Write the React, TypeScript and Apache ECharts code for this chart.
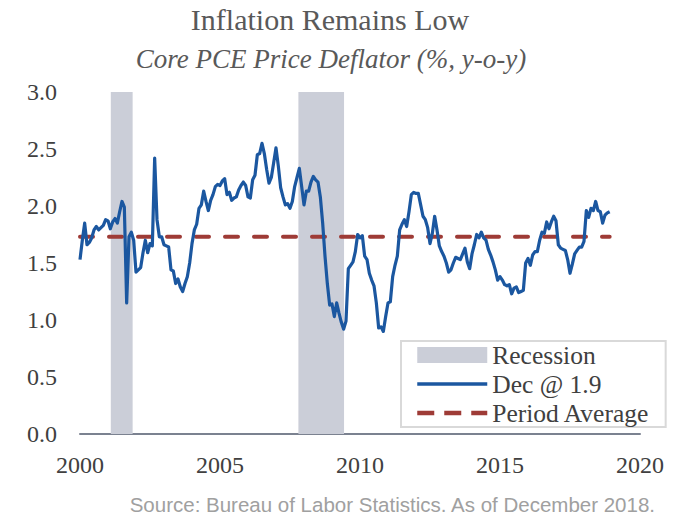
import React, { useEffect, useRef } from "react";
import * as echarts from "echarts";

// Core PCE price deflator, % y-o-y, monthly Jan 2000 .. Dec 2018
const startYear = 2000;
const corePce = [
  1.53, 1.70, 1.85, 1.66, 1.68, 1.72, 1.79, 1.82, 1.79, 1.81, 1.83, 1.88, // 2000
  1.87, 1.80, 1.86, 1.89, 1.85, 1.95, 2.04, 1.99, 1.15, 1.73, 1.77, 1.70, // 2001
  1.42, 1.44, 1.46, 1.59, 1.70, 1.59, 1.67, 1.65, 2.42, 1.88, 1.73, 1.73, // 2002
  1.66, 1.65, 1.64, 1.44, 1.43, 1.32, 1.36, 1.29, 1.25, 1.32, 1.38, 1.50, // 2003
  1.67, 1.79, 1.84, 1.98, 2.01, 2.13, 2.04, 1.96, 2.05, 2.10, 2.17, 2.19, // 2004
  2.18, 2.22, 2.24, 2.10, 2.12, 2.05, 2.07, 2.08, 2.14, 2.18, 2.21, 2.18, // 2005
  2.08, 2.07, 2.23, 2.27, 2.45, 2.46, 2.55, 2.46, 2.32, 2.20, 2.25, 2.38, // 2006
  2.51, 2.35, 2.16, 2.08, 2.01, 2.02, 1.98, 2.04, 2.17, 2.25, 2.33, 2.17, // 2007
  2.01, 2.13, 2.13, 2.21, 2.26, 2.23, 2.21, 2.08, 1.85, 1.56, 1.32, 1.13, // 2008
  1.14, 1.03, 1.15, 1.06, 0.98, 0.92, 0.99, 1.45, 1.48, 1.51, 1.60, 1.75, // 2009
  1.72, 1.74, 1.56, 1.53, 1.41, 1.35, 1.30, 1.15, 0.93, 0.94, 0.90, 1.03, // 2010
  1.15, 1.16, 1.38, 1.48, 1.56, 1.79, 1.84, 1.88, 1.82, 1.95, 2.10, 2.12, // 2011
  2.11, 2.11, 2.01, 1.91, 1.88, 1.81, 1.67, 1.76, 1.91, 1.79, 1.65, 1.60, // 2012
  1.56, 1.50, 1.42, 1.44, 1.50, 1.55, 1.54, 1.53, 1.58, 1.63, 1.51, 1.45, // 2013
  1.58, 1.66, 1.75, 1.72, 1.77, 1.72, 1.70, 1.62, 1.57, 1.51, 1.44, 1.35, // 2014
  1.38, 1.35, 1.31, 1.30, 1.31, 1.23, 1.28, 1.29, 1.24, 1.25, 1.26, 1.50, // 2015
  1.54, 1.48, 1.57, 1.60, 1.60, 1.70, 1.77, 1.76, 1.86, 1.80, 1.86, 1.91, // 2016
  1.87, 1.66, 1.63, 1.62, 1.61, 1.53, 1.41, 1.49, 1.58, 1.61, 1.64, 1.64, // 2017
  1.69, 1.96, 1.90, 1.98, 1.96, 2.04, 1.96, 1.95, 1.85, 1.92, 1.94, 1.95, // 2018
];

// Recession periods (decimal years, start/end of shading)
const recessionStarts = [2001.1, 2007.8];
const recessionEnds = [2001.88, 2009.43];

const periodAverage = 1.73;
const averageSpan = [2000, 2018 + 11 / 12];

const xTickLabels = ["2000", "2005", "2010", "2015", "2020"];
const yTickLabels = ["0.0", "0.5", "1.0", "1.5", "2.0", "2.5", "3.0"];

const titleText = "Inflation Remains Low";
const subtitleText = "Core PCE Price Deflator (%, y-o-y)";
const sourceText = "Source: Bureau of Labor Statistics. As of December 2018.";

const serif = "'Liberation Serif', 'DejaVu Serif', serif";
const sans = "'Liberation Sans', Arial, sans-serif";

export default function App() {
  const ref = useRef<HTMLDivElement>(null);

  useEffect(() => {
    if (!ref.current) return;
    const chart = echarts.init(ref.current, undefined, { renderer: "svg" });

    const lineData = corePce.map((v, i) => [startYear + i / 12, v]);
    const avgData = averageSpan.map((x) => [x, periodAverage]);
    const recessionAreas = recessionStarts.map((s, i) => [
      { xAxis: s },
      { xAxis: recessionEnds[i] },
    ]);

    const option: any = {
      animation: false,
      backgroundColor: "#ffffff",
      grid: { left: 80, right: 41, top: 92, bottom: 84, containLabel: false },
      xAxis: {
        type: "value",
        min: 2000,
        max: 2020,
        interval: 5,
        axisLine: { show: true, lineStyle: { color: "#7b8290", width: 2 } },
        axisTick: { show: false },
        splitLine: { show: false },
        axisLabel: {
          formatter: (v: number) => xTickLabels[Math.round((v - 2000) / 5)] ?? String(v),
          fontFamily: serif,
          fontSize: 24,
          color: "#404040",
          margin: 19,
        },
      },
      yAxis: {
        type: "value",
        min: 0,
        max: 3,
        interval: 0.5,
        axisLine: { show: false },
        axisTick: { show: false },
        splitLine: { show: false },
        axisLabel: {
          formatter: (v: number) => yTickLabels[Math.round(v / 0.5)] ?? v.toFixed(1),
          fontFamily: serif,
          fontSize: 24,
          color: "#404040",
          margin: 23,
        },
      },
      legend: {
        orient: "vertical",
        left: 401,
        top: 341,
        itemWidth: 70,
        itemHeight: 16,
        itemGap: 3,
        padding: [1, 16, 1, 14],
        backgroundColor: "#ffffff",
        borderColor: "#d9d9d9",
        borderWidth: 2,
        textStyle: { fontFamily: serif, fontSize: 25.5, color: "#404040", lineHeight: 24 },
        data: [
          { name: "Recession", icon: "rect" },
          {
            name: "Dec @ 1.9",
            itemStyle: { opacity: 0 },
            lineStyle: { width: 3.5, color: "#1b57a0" },
          },
          {
            name: "Period Average",
            itemStyle: { opacity: 0 },
            lineStyle: { width: 4.5, color: "#9e3b36", type: [17, 10], cap: "butt" },
          },
        ],
      },
      series: [
        {
          name: "Recession",
          type: "line",
          data: [],
          z: 1,
          color: "#cbced8",
          itemStyle: { color: "#cbced8" },
          markArea: {
            silent: true,
            itemStyle: { color: "#cbced8", opacity: 1 },
            data: recessionAreas,
          },
        },
        {
          name: "Dec @ 1.9",
          type: "line",
          data: lineData,
          showSymbol: false,
          symbol: "none",
          z: 3,
          color: "#1b57a0",
          lineStyle: { color: "#1b57a0", width: 3.2, join: "round" },
        },
        {
          name: "Period Average",
          type: "line",
          data: avgData,
          showSymbol: false,
          symbol: "none",
          z: 2,
          color: "#9e3b36",
          lineStyle: { color: "#9e3b36", width: 4, type: [13, 16], cap: "round" },
        },
      ],
      graphic: [
        {
          type: "text",
          x: 330,
          y: 19,
          style: {
            text: titleText,
            fontFamily: serif,
            fontSize: 30,
            fill: "#595959",
            textAlign: "center",
            textVerticalAlign: "middle",
          },
        },
        {
          type: "text",
          x: 331,
          y: 59,
          style: {
            text: subtitleText,
            fontFamily: serif,
            fontStyle: "italic",
            fontSize: 27,
            fill: "#595959",
            textAlign: "center",
            textVerticalAlign: "middle",
          },
        },
        {
          type: "text",
          x: 655,
          y: 504,
          style: {
            text: sourceText,
            fontFamily: sans,
            fontSize: 20.5,
            fill: "#a0a0a0",
            textAlign: "right",
            textVerticalAlign: "middle",
          },
        },
      ],
    };

    chart.setOption(option);
    return () => chart.dispose();
  }, []);

  return (
    <div
      ref={ref}
      style={{ position: "absolute", left: 0, top: 0, width: 681, height: 518 }}
    />
  );
}
